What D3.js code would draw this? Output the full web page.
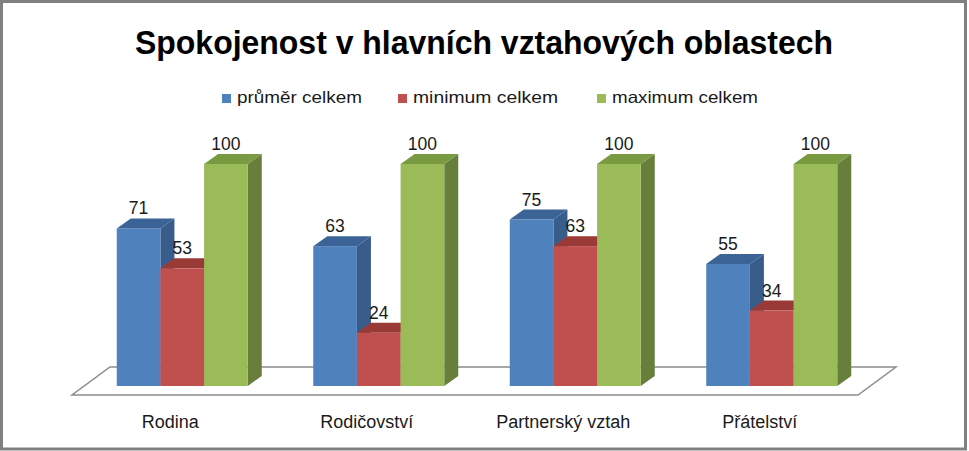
<!DOCTYPE html>
<html>
<head>
<meta charset="utf-8">
<script src="https://cdn.jsdelivr.net/npm/d3@7"></script>
<style>
  body { margin: 0; background: #fff; }
  svg { display: block; font-family: "Liberation Sans", Arial, sans-serif; }
</style>
</head>
<body>
<svg id="chart" width="969" height="451"></svg>
<script>
const categories = ['Rodina', 'Rodičovství', 'Partnerský vztah', 'Přátelství'];
const seriesNames = ['průměr celkem', 'minimum celkem', 'maximum celkem'];
const prumer = [71, 63, 75, 55];
const minimum = [53, 24, 63, 34];
const maximum = [100, 100, 100, 100];

const colors = [
  { front: '#4f81bd', top: '#3b6396', side: '#385d8a' },
  { front: '#c0504d', top: '#993a37', side: '#8c3836' },
  { front: '#9bbb59', top: '#7a9a42', side: '#677f3a' }
];

const svg = d3.select('#chart');

// outer frame
svg.append('rect')
  .attr('x', 1.5).attr('y', 1.5)
  .attr('width', 964).attr('height', 447.5)
  .attr('fill', '#fff')
  .attr('stroke', '#808080')
  .attr('stroke-width', 3);

// title
svg.append('text')
  .attr('x', 484).attr('y', 54)
  .attr('text-anchor', 'middle')
  .attr('font-size', 33)
  .attr('font-weight', 'bold')
  .attr('textLength', 698)
  .attr('lengthAdjust', 'spacingAndGlyphs')
  .text('Spokojenost v hlavních vztahových oblastech');

// legend
const legendX = [222, 398, 597];
const legendW = [125, 145, 146];
const legend = svg.append('g').selectAll('g')
  .data(seriesNames)
  .enter().append('g')
  .attr('transform', (d, i) => `translate(${legendX[i]}, 94)`);
legend.append('rect')
  .attr('width', 9).attr('height', 9)
  .attr('fill', (d, i) => colors[i].front);
legend.append('text')
  .attr('x', 15).attr('y', 9)
  .attr('font-size', 16.5)
  .attr('fill', '#1a1a1a')
  .attr('textLength', (d, i) => legendW[i])
  .attr('lengthAdjust', 'spacingAndGlyphs')
  .text(d => d);

// floor geometry
const floorY = 395;
const floorDepth = [38, -28];
const barOffset = [12, -9];
const barDepth = [14, -10];

const x = d3.scaleBand()
  .domain(categories)
  .range([72, 858])
  .paddingInner(1 / 3)
  .paddingOuter(1 / 6);

const xs = d3.scaleBand()
  .domain(seriesNames)
  .range([0, x.bandwidth()]);

const y = d3.scaleLinear()
  .domain([0, 100])
  .range([floorY + barOffset[1], 164]);

const floorL = x.range()[0];
const floorR = x.range()[1];
svg.append('path')
  .attr('d', d3.line()([
    [floorL, floorY],
    [floorR, floorY],
    [floorR + floorDepth[0], floorY + floorDepth[1]],
    [floorL + floorDepth[0], floorY + floorDepth[1]]
  ]) + 'Z')
  .attr('fill', '#fff')
  .attr('stroke', '#8c8c8c')
  .attr('stroke-width', 1.5);

// bars
const seriesValues = [prumer, minimum, maximum];
const bars = [];
categories.forEach((c, ci) => {
  seriesNames.forEach((s, si) => {
    bars.push({ cat: c, series: si, value: seriesValues[si][ci] });
  });
});

const bw = xs.bandwidth();
const dx = barDepth[0], dy = barDepth[1];
const barG = svg.append('g');

bars.forEach(b => {
  const x0 = x(b.cat) + xs(seriesNames[b.series]) + barOffset[0];
  const x1 = x0 + bw;
  const yt = y(b.value);
  const yb = y(0);
  const col = colors[b.series];
  const g = barG.append('g');
  // side
  g.append('path')
    .attr('d', d3.line()([[x1, yb], [x1 + dx, yb + dy], [x1 + dx, yt + dy], [x1, yt]]) + 'Z')
    .attr('fill', col.side);
  // top
  g.append('path')
    .attr('d', d3.line()([[x0, yt], [x0 + dx, yt + dy], [x1 + dx, yt + dy], [x1, yt]]) + 'Z')
    .attr('fill', col.top);
  // front
  g.append('rect')
    .attr('x', x0).attr('y', yt)
    .attr('width', bw).attr('height', yb - yt)
    .attr('fill', col.front);
  // value label
  g.append('text')
    .attr('x', x0 + bw / 2)
    .attr('y', yt - 14)
    .attr('text-anchor', 'middle')
    .attr('font-size', 17.5)
    .attr('fill', '#1a1a1a')
    .text(b.value);
});

// category labels
svg.append('g').selectAll('text')
  .data(categories)
  .enter().append('text')
  .attr('x', d => x(d) + x.bandwidth() / 2)
  .attr('y', 428)
  .attr('text-anchor', 'middle')
  .attr('font-size', 18)
  .attr('fill', '#1a1a1a')
  .text(d => d);
</script>
</body>
</html>
